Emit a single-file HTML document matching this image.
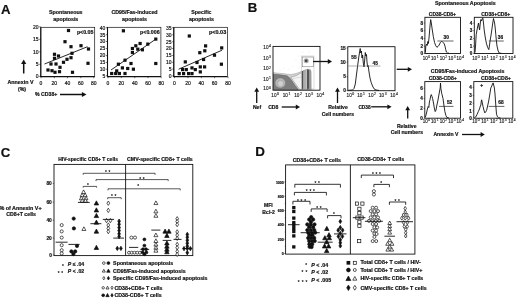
<!DOCTYPE html>
<html><head><meta charset="utf-8"><title>Figure</title>
<style>
html,body{margin:0;padding:0;background:#fff;}
body{width:520px;height:299px;overflow:hidden;}
svg{display:block;filter:blur(0.35px);font-family:"Liberation Sans",sans-serif;font-weight:bold;fill:#111;}
svg text{fill:#111;stroke:#111;stroke-width:0.18px;}
</style></head><body>
<svg width="520" height="299" viewBox="0 0 520 299">
<rect x="0" y="0" width="520" height="299" fill="#fff" stroke="none"/>
<text x="1.1" y="13.5" font-size="13.2" text-anchor="start" font-weight="bold" >A</text>
<rect x="40.8" y="27.3" width="53.900000000000006" height="49.3" fill="none" stroke="#111" stroke-width="0.7"/>
<line x1="40.8" y1="27.3" x2="40.8" y2="77.0" stroke="#111" stroke-width="1.1"/>
<line x1="40.4" y1="76.6" x2="94.7" y2="76.6" stroke="#111" stroke-width="1.1"/>
<text x="65.8" y="14.2" font-size="5.3" text-anchor="middle" font-weight="bold" >Spontaneous</text>
<text x="65.8" y="20.5" font-size="5.3" text-anchor="middle" font-weight="bold" >apoptosis</text>
<line x1="39.199999999999996" y1="76.4" x2="40.8" y2="76.4" stroke="#111" stroke-width="0.6"/>
<text x="38.5" y="78.2" font-size="5.0" text-anchor="end" font-weight="normal" stroke="#111" stroke-width="0.12">0</text>
<line x1="39.199999999999996" y1="64.3" x2="40.8" y2="64.3" stroke="#111" stroke-width="0.6"/>
<text x="38.5" y="66.1" font-size="5.0" text-anchor="end" font-weight="normal" stroke="#111" stroke-width="0.12">5</text>
<line x1="39.199999999999996" y1="51.8" x2="40.8" y2="51.8" stroke="#111" stroke-width="0.6"/>
<text x="38.5" y="53.599999999999994" font-size="5.0" text-anchor="end" font-weight="normal" stroke="#111" stroke-width="0.12">10</text>
<line x1="39.199999999999996" y1="39.3" x2="40.8" y2="39.3" stroke="#111" stroke-width="0.6"/>
<text x="38.5" y="41.099999999999994" font-size="5.0" text-anchor="end" font-weight="normal" stroke="#111" stroke-width="0.12">15</text>
<line x1="39.199999999999996" y1="26.8" x2="40.8" y2="26.8" stroke="#111" stroke-width="0.6"/>
<text x="38.5" y="28.6" font-size="5.0" text-anchor="end" font-weight="normal" stroke="#111" stroke-width="0.12">20</text>
<line x1="41" y1="76.6" x2="41" y2="78.19999999999999" stroke="#111" stroke-width="0.6"/>
<text x="41" y="84.5" font-size="5.0" text-anchor="middle" font-weight="normal" stroke="#111" stroke-width="0.12">0</text>
<line x1="54.3" y1="76.6" x2="54.3" y2="78.19999999999999" stroke="#111" stroke-width="0.6"/>
<text x="54.3" y="84.5" font-size="5.0" text-anchor="middle" font-weight="normal" stroke="#111" stroke-width="0.12">20</text>
<line x1="67.5" y1="76.6" x2="67.5" y2="78.19999999999999" stroke="#111" stroke-width="0.6"/>
<text x="67.5" y="84.5" font-size="5.0" text-anchor="middle" font-weight="normal" stroke="#111" stroke-width="0.12">40</text>
<line x1="80.8" y1="76.6" x2="80.8" y2="78.19999999999999" stroke="#111" stroke-width="0.6"/>
<text x="80.8" y="84.5" font-size="5.0" text-anchor="middle" font-weight="normal" stroke="#111" stroke-width="0.12">60</text>
<line x1="93.8" y1="76.6" x2="93.8" y2="78.19999999999999" stroke="#111" stroke-width="0.6"/>
<text x="93.8" y="84.5" font-size="5.0" text-anchor="middle" font-weight="normal" stroke="#111" stroke-width="0.12">80</text>
<rect x="66.9" y="28.9" width="3.2" height="3.2" fill="#111" stroke="#111" stroke-width="0.0"/>
<rect x="63.4" y="40.1" width="3.2" height="3.2" fill="#111" stroke="#111" stroke-width="0.0"/>
<rect x="69.4" y="45.1" width="3.2" height="3.2" fill="#111" stroke="#111" stroke-width="0.0"/>
<rect x="79.4" y="44.1" width="3.2" height="3.2" fill="#111" stroke="#111" stroke-width="0.0"/>
<rect x="86.9" y="47.4" width="3.2" height="3.2" fill="#111" stroke="#111" stroke-width="0.0"/>
<rect x="70.4" y="51.699999999999996" width="3.2" height="3.2" fill="#111" stroke="#111" stroke-width="0.0"/>
<rect x="52.9" y="52.699999999999996" width="3.2" height="3.2" fill="#111" stroke="#111" stroke-width="0.0"/>
<rect x="56.9" y="54.4" width="3.2" height="3.2" fill="#111" stroke="#111" stroke-width="0.0"/>
<rect x="52.9" y="56.699999999999996" width="3.2" height="3.2" fill="#111" stroke="#111" stroke-width="0.0"/>
<rect x="69.4" y="56.1" width="3.2" height="3.2" fill="#111" stroke="#111" stroke-width="0.0"/>
<rect x="65.4" y="57.699999999999996" width="3.2" height="3.2" fill="#111" stroke="#111" stroke-width="0.0"/>
<rect x="61.9" y="60.699999999999996" width="3.2" height="3.2" fill="#111" stroke="#111" stroke-width="0.0"/>
<rect x="49.4" y="62.4" width="3.2" height="3.2" fill="#111" stroke="#111" stroke-width="0.0"/>
<rect x="54.4" y="62.4" width="3.2" height="3.2" fill="#111" stroke="#111" stroke-width="0.0"/>
<rect x="86.4" y="61.699999999999996" width="3.2" height="3.2" fill="#111" stroke="#111" stroke-width="0.0"/>
<rect x="58.4" y="65.7" width="3.2" height="3.2" fill="#111" stroke="#111" stroke-width="0.0"/>
<rect x="46.4" y="68.4" width="3.2" height="3.2" fill="#111" stroke="#111" stroke-width="0.0"/>
<rect x="50.4" y="69.10000000000001" width="3.2" height="3.2" fill="#111" stroke="#111" stroke-width="0.0"/>
<rect x="53.4" y="70.7" width="3.2" height="3.2" fill="#111" stroke="#111" stroke-width="0.0"/>
<rect x="57.9" y="70.10000000000001" width="3.2" height="3.2" fill="#111" stroke="#111" stroke-width="0.0"/>
<rect x="70.9" y="70.7" width="3.2" height="3.2" fill="#111" stroke="#111" stroke-width="0.0"/>
<line x1="44.5" y1="64" x2="87.5" y2="46.7" stroke="#111" stroke-width="0.9"/>
<text x="93.4" y="33.7" font-size="5.2" text-anchor="end" font-weight="bold" textLength="16.5" lengthAdjust="spacingAndGlyphs" >p&lt;0.05</text>
<rect x="107.5" y="27.3" width="53.400000000000006" height="49.3" fill="none" stroke="#111" stroke-width="0.7"/>
<line x1="107.5" y1="27.3" x2="107.5" y2="77.0" stroke="#111" stroke-width="1.1"/>
<line x1="107.1" y1="76.6" x2="160.9" y2="76.6" stroke="#111" stroke-width="1.1"/>
<text x="134.5" y="14.2" font-size="5.3" text-anchor="middle" font-weight="bold" >CD95/Fas-induced</text>
<text x="134.5" y="20.5" font-size="5.3" text-anchor="middle" font-weight="bold" >apoptosis</text>
<line x1="105.9" y1="75.7" x2="107.5" y2="75.7" stroke="#111" stroke-width="0.6"/>
<text x="105.2" y="77.5" font-size="5.0" text-anchor="end" font-weight="normal" stroke="#111" stroke-width="0.12">5</text>
<line x1="105.9" y1="69.2" x2="107.5" y2="69.2" stroke="#111" stroke-width="0.6"/>
<text x="105.2" y="71.0" font-size="5.0" text-anchor="end" font-weight="normal" stroke="#111" stroke-width="0.12">10</text>
<line x1="105.9" y1="62.4" x2="107.5" y2="62.4" stroke="#111" stroke-width="0.6"/>
<text x="105.2" y="64.2" font-size="5.0" text-anchor="end" font-weight="normal" stroke="#111" stroke-width="0.12">15</text>
<line x1="105.9" y1="55.6" x2="107.5" y2="55.6" stroke="#111" stroke-width="0.6"/>
<text x="105.2" y="57.4" font-size="5.0" text-anchor="end" font-weight="normal" stroke="#111" stroke-width="0.12">20</text>
<line x1="105.9" y1="48.6" x2="107.5" y2="48.6" stroke="#111" stroke-width="0.6"/>
<text x="105.2" y="50.4" font-size="5.0" text-anchor="end" font-weight="normal" stroke="#111" stroke-width="0.12">25</text>
<line x1="105.9" y1="41.5" x2="107.5" y2="41.5" stroke="#111" stroke-width="0.6"/>
<text x="105.2" y="43.3" font-size="5.0" text-anchor="end" font-weight="normal" stroke="#111" stroke-width="0.12">30</text>
<line x1="105.9" y1="34.7" x2="107.5" y2="34.7" stroke="#111" stroke-width="0.6"/>
<text x="105.2" y="36.5" font-size="5.0" text-anchor="end" font-weight="normal" stroke="#111" stroke-width="0.12">35</text>
<line x1="105.9" y1="27.7" x2="107.5" y2="27.7" stroke="#111" stroke-width="0.6"/>
<text x="105.2" y="29.5" font-size="5.0" text-anchor="end" font-weight="normal" stroke="#111" stroke-width="0.12">40</text>
<line x1="108" y1="76.6" x2="108" y2="78.19999999999999" stroke="#111" stroke-width="0.6"/>
<text x="108" y="84.5" font-size="5.0" text-anchor="middle" font-weight="normal" stroke="#111" stroke-width="0.12">0</text>
<line x1="121.3" y1="76.6" x2="121.3" y2="78.19999999999999" stroke="#111" stroke-width="0.6"/>
<text x="121.3" y="84.5" font-size="5.0" text-anchor="middle" font-weight="normal" stroke="#111" stroke-width="0.12">20</text>
<line x1="134.8" y1="76.6" x2="134.8" y2="78.19999999999999" stroke="#111" stroke-width="0.6"/>
<text x="134.8" y="84.5" font-size="5.0" text-anchor="middle" font-weight="normal" stroke="#111" stroke-width="0.12">40</text>
<line x1="148" y1="76.6" x2="148" y2="78.19999999999999" stroke="#111" stroke-width="0.6"/>
<text x="148" y="84.5" font-size="5.0" text-anchor="middle" font-weight="normal" stroke="#111" stroke-width="0.12">60</text>
<line x1="161.2" y1="76.6" x2="161.2" y2="78.19999999999999" stroke="#111" stroke-width="0.6"/>
<text x="161.2" y="84.5" font-size="5.0" text-anchor="middle" font-weight="normal" stroke="#111" stroke-width="0.12">80</text>
<rect x="121.80000000000001" y="29.2" width="3.2" height="3.2" fill="#111" stroke="#111" stroke-width="0.0"/>
<rect x="154.20000000000002" y="37.5" width="3.2" height="3.2" fill="#111" stroke="#111" stroke-width="0.0"/>
<rect x="138.5" y="41.9" width="3.2" height="3.2" fill="#111" stroke="#111" stroke-width="0.0"/>
<rect x="146.20000000000002" y="42.5" width="3.2" height="3.2" fill="#111" stroke="#111" stroke-width="0.0"/>
<rect x="134.20000000000002" y="44.199999999999996" width="3.2" height="3.2" fill="#111" stroke="#111" stroke-width="0.0"/>
<rect x="130.8" y="46.9" width="3.2" height="3.2" fill="#111" stroke="#111" stroke-width="0.0"/>
<rect x="136.20000000000002" y="47.6" width="3.2" height="3.2" fill="#111" stroke="#111" stroke-width="0.0"/>
<rect x="140.8" y="48.199999999999996" width="3.2" height="3.2" fill="#111" stroke="#111" stroke-width="0.0"/>
<rect x="130.8" y="50.9" width="3.2" height="3.2" fill="#111" stroke="#111" stroke-width="0.0"/>
<rect x="123.4" y="58.6" width="3.2" height="3.2" fill="#111" stroke="#111" stroke-width="0.0"/>
<rect x="116.80000000000001" y="62.6" width="3.2" height="3.2" fill="#111" stroke="#111" stroke-width="0.0"/>
<rect x="129.4" y="61.9" width="3.2" height="3.2" fill="#111" stroke="#111" stroke-width="0.0"/>
<rect x="154.20000000000002" y="61.9" width="3.2" height="3.2" fill="#111" stroke="#111" stroke-width="0.0"/>
<rect x="120.80000000000001" y="66.30000000000001" width="3.2" height="3.2" fill="#111" stroke="#111" stroke-width="0.0"/>
<rect x="126.10000000000001" y="66.9" width="3.2" height="3.2" fill="#111" stroke="#111" stroke-width="0.0"/>
<rect x="131.8" y="67.60000000000001" width="3.2" height="3.2" fill="#111" stroke="#111" stroke-width="0.0"/>
<rect x="115.10000000000001" y="69.30000000000001" width="3.2" height="3.2" fill="#111" stroke="#111" stroke-width="0.0"/>
<rect x="110.10000000000001" y="71.9" width="3.2" height="3.2" fill="#111" stroke="#111" stroke-width="0.0"/>
<rect x="114.10000000000001" y="71.9" width="3.2" height="3.2" fill="#111" stroke="#111" stroke-width="0.0"/>
<rect x="117.80000000000001" y="71.9" width="3.2" height="3.2" fill="#111" stroke="#111" stroke-width="0.0"/>
<rect x="123.4" y="71.9" width="3.2" height="3.2" fill="#111" stroke="#111" stroke-width="0.0"/>
<line x1="111" y1="70" x2="156" y2="39" stroke="#111" stroke-width="0.9"/>
<text x="159.6" y="33.7" font-size="5.2" text-anchor="end" font-weight="bold" textLength="19.5" lengthAdjust="spacingAndGlyphs" >p&lt;0.006</text>
<rect x="173.8" y="27.3" width="53.69999999999999" height="49.3" fill="none" stroke="#111" stroke-width="0.7"/>
<line x1="173.8" y1="27.3" x2="173.8" y2="77.0" stroke="#111" stroke-width="1.1"/>
<line x1="173.4" y1="76.6" x2="227.5" y2="76.6" stroke="#111" stroke-width="1.1"/>
<text x="201.4" y="14.2" font-size="5.3" text-anchor="middle" font-weight="bold" >Specific</text>
<text x="201.4" y="20.5" font-size="5.3" text-anchor="middle" font-weight="bold" >apoptosis</text>
<line x1="172.20000000000002" y1="75.9" x2="173.8" y2="75.9" stroke="#111" stroke-width="0.6"/>
<text x="171.5" y="77.7" font-size="5.0" text-anchor="end" font-weight="normal" stroke="#111" stroke-width="0.12">0</text>
<line x1="172.20000000000002" y1="69.1" x2="173.8" y2="69.1" stroke="#111" stroke-width="0.6"/>
<text x="171.5" y="70.89999999999999" font-size="5.0" text-anchor="end" font-weight="normal" stroke="#111" stroke-width="0.12">5</text>
<line x1="172.20000000000002" y1="62.3" x2="173.8" y2="62.3" stroke="#111" stroke-width="0.6"/>
<text x="171.5" y="64.1" font-size="5.0" text-anchor="end" font-weight="normal" stroke="#111" stroke-width="0.12">10</text>
<line x1="172.20000000000002" y1="55.5" x2="173.8" y2="55.5" stroke="#111" stroke-width="0.6"/>
<text x="171.5" y="57.3" font-size="5.0" text-anchor="end" font-weight="normal" stroke="#111" stroke-width="0.12">15</text>
<line x1="172.20000000000002" y1="48.5" x2="173.8" y2="48.5" stroke="#111" stroke-width="0.6"/>
<text x="171.5" y="50.3" font-size="5.0" text-anchor="end" font-weight="normal" stroke="#111" stroke-width="0.12">20</text>
<line x1="172.20000000000002" y1="41.7" x2="173.8" y2="41.7" stroke="#111" stroke-width="0.6"/>
<text x="171.5" y="43.5" font-size="5.0" text-anchor="end" font-weight="normal" stroke="#111" stroke-width="0.12">25</text>
<line x1="172.20000000000002" y1="34.8" x2="173.8" y2="34.8" stroke="#111" stroke-width="0.6"/>
<text x="171.5" y="36.599999999999994" font-size="5.0" text-anchor="end" font-weight="normal" stroke="#111" stroke-width="0.12">30</text>
<line x1="172.20000000000002" y1="27.7" x2="173.8" y2="27.7" stroke="#111" stroke-width="0.6"/>
<text x="171.5" y="29.5" font-size="5.0" text-anchor="end" font-weight="normal" stroke="#111" stroke-width="0.12">35</text>
<line x1="174.5" y1="76.6" x2="174.5" y2="78.19999999999999" stroke="#111" stroke-width="0.6"/>
<text x="174.5" y="84.5" font-size="5.0" text-anchor="middle" font-weight="normal" stroke="#111" stroke-width="0.12">0</text>
<line x1="188" y1="76.6" x2="188" y2="78.19999999999999" stroke="#111" stroke-width="0.6"/>
<text x="188" y="84.5" font-size="5.0" text-anchor="middle" font-weight="normal" stroke="#111" stroke-width="0.12">20</text>
<line x1="201.3" y1="76.6" x2="201.3" y2="78.19999999999999" stroke="#111" stroke-width="0.6"/>
<text x="201.3" y="84.5" font-size="5.0" text-anchor="middle" font-weight="normal" stroke="#111" stroke-width="0.12">40</text>
<line x1="214.6" y1="76.6" x2="214.6" y2="78.19999999999999" stroke="#111" stroke-width="0.6"/>
<text x="214.6" y="84.5" font-size="5.0" text-anchor="middle" font-weight="normal" stroke="#111" stroke-width="0.12">60</text>
<line x1="228" y1="76.6" x2="228" y2="78.19999999999999" stroke="#111" stroke-width="0.6"/>
<text x="228" y="84.5" font-size="5.0" text-anchor="middle" font-weight="normal" stroke="#111" stroke-width="0.12">80</text>
<rect x="187.70000000000002" y="34.4" width="3.2" height="3.2" fill="#111" stroke="#111" stroke-width="0.0"/>
<rect x="220.1" y="46.3" width="3.2" height="3.2" fill="#111" stroke="#111" stroke-width="0.0"/>
<rect x="204.0" y="44.3" width="3.2" height="3.2" fill="#111" stroke="#111" stroke-width="0.0"/>
<rect x="198.20000000000002" y="51.1" width="3.2" height="3.2" fill="#111" stroke="#111" stroke-width="0.0"/>
<rect x="203.20000000000002" y="49.199999999999996" width="3.2" height="3.2" fill="#111" stroke="#111" stroke-width="0.0"/>
<rect x="212.9" y="53.6" width="3.2" height="3.2" fill="#111" stroke="#111" stroke-width="0.0"/>
<rect x="202.0" y="57.9" width="3.2" height="3.2" fill="#111" stroke="#111" stroke-width="0.0"/>
<rect x="183.70000000000002" y="60.3" width="3.2" height="3.2" fill="#111" stroke="#111" stroke-width="0.0"/>
<rect x="195.4" y="60.9" width="3.2" height="3.2" fill="#111" stroke="#111" stroke-width="0.0"/>
<rect x="219.8" y="62.6" width="3.2" height="3.2" fill="#111" stroke="#111" stroke-width="0.0"/>
<rect x="198.70000000000002" y="65.30000000000001" width="3.2" height="3.2" fill="#111" stroke="#111" stroke-width="0.0"/>
<rect x="203.0" y="65.30000000000001" width="3.2" height="3.2" fill="#111" stroke="#111" stroke-width="0.0"/>
<rect x="190.4" y="66.30000000000001" width="3.2" height="3.2" fill="#111" stroke="#111" stroke-width="0.0"/>
<rect x="181.0" y="68.0" width="3.2" height="3.2" fill="#111" stroke="#111" stroke-width="0.0"/>
<rect x="184.70000000000002" y="68.0" width="3.2" height="3.2" fill="#111" stroke="#111" stroke-width="0.0"/>
<rect x="193.70000000000002" y="68.0" width="3.2" height="3.2" fill="#111" stroke="#111" stroke-width="0.0"/>
<rect x="198.70000000000002" y="70.30000000000001" width="3.2" height="3.2" fill="#111" stroke="#111" stroke-width="0.0"/>
<rect x="177.6" y="72.0" width="3.2" height="3.2" fill="#111" stroke="#111" stroke-width="0.0"/>
<rect x="182.0" y="72.0" width="3.2" height="3.2" fill="#111" stroke="#111" stroke-width="0.0"/>
<rect x="187.0" y="72.0" width="3.2" height="3.2" fill="#111" stroke="#111" stroke-width="0.0"/>
<rect x="190.4" y="72.0" width="3.2" height="3.2" fill="#111" stroke="#111" stroke-width="0.0"/>
<line x1="178.6" y1="69.2" x2="222" y2="50.2" stroke="#111" stroke-width="0.9"/>
<text x="226.2" y="33.7" font-size="5.2" text-anchor="end" font-weight="bold" textLength="17.2" lengthAdjust="spacingAndGlyphs" >p&lt;0.03</text>
<line x1="23.7" y1="73.5" x2="23.7" y2="63.599999999999994" stroke="#111" stroke-width="1.5"/>
<polygon points="23.7,59.5 21.099999999999998,64.1 26.3,64.1" fill="#111"/>
<text x="7.5" y="84" font-size="5.2" text-anchor="start" font-weight="bold" textLength="26" lengthAdjust="spacingAndGlyphs" >Annexin V</text>
<text x="22" y="90.6" font-size="5.2" text-anchor="middle" font-weight="bold" >(%)</text>
<text x="35" y="96.2" font-size="5.2" text-anchor="start" font-weight="bold" textLength="22.3" lengthAdjust="spacingAndGlyphs" >% CD38+</text>
<line x1="60" y1="94.5" x2="82.4" y2="94.5" stroke="#111" stroke-width="1.5"/>
<polygon points="86.5,94.5 81.9,91.9 81.9,97.1" fill="#111"/>
<text x="247.8" y="11.7" font-size="13.2" text-anchor="start" font-weight="bold" >B</text>
<defs><linearGradient id="g1" x1="0" x2="1" y1="0" y2="0"><stop offset="0" stop-color="#777"/><stop offset="0.45" stop-color="#aaa"/><stop offset="1" stop-color="#ddd"/></linearGradient><linearGradient id="g2" x1="0" x2="0" y1="0" y2="1"><stop offset="0" stop-color="#e4e4e4"/><stop offset="1" stop-color="#9a9a9a"/></linearGradient></defs>
<path d="M273.5,89.8 L273.5,72.6 L278,73.2 L283,73.6 L290,74.6 L296,73.6 L301,71.6 L305,70 L308,69 L310.5,69.6 L311.2,72 L311.4,89.8 Z" fill="#d4d4d4" stroke="#888" stroke-width="0.4"/>
<path d="M273.5,89.8 L273.5,74.2 L280,74.8 L287,75.8 L289.2,77.4 L292,81 L295,85.5 L298.4,89.8 Z" fill="#7d7d7d" stroke="#444" stroke-width="0.4"/>
<ellipse cx="280.3" cy="83" rx="5.2" ry="5" fill="#b9b9b9" stroke="#666" stroke-width="0.3"/>
<ellipse cx="280.6" cy="83.6" rx="3" ry="3.2" fill="#cfcfcf" stroke="#777" stroke-width="0.3"/>
<path d="M290.6,77 L293.5,76.6 L297,75.2 L301.6,72.6 L302,89.4 L299.6,89.4 L296,84.6 L293,80.4 Z" fill="#f3f3f3" stroke="#666" stroke-width="0.4"/>
<path d="M292,79.2 Q296,77.5 301.6,77" fill="none" stroke="#999" stroke-width="0.3"/>
<line x1="302.6" y1="71" x2="302.6" y2="89.5" stroke="#333" stroke-width="0.9"/>
<line x1="304" y1="70.2" x2="304" y2="89.5" stroke="#666" stroke-width="0.7"/>
<line x1="305.6" y1="69.6" x2="305.6" y2="89.5" stroke="#888" stroke-width="0.5"/>
<line x1="307.4" y1="69.4" x2="307.4" y2="89.5" stroke="#333" stroke-width="0.9"/>
<line x1="308.8" y1="69.6" x2="308.8" y2="89.5" stroke="#222" stroke-width="1.0"/>
<line x1="310.3" y1="70.4" x2="310.3" y2="89.5" stroke="#666" stroke-width="0.6"/>
<rect x="301.4" y="56" width="12.6" height="33" fill="none" stroke="#aaa" stroke-width="0.4"/>
<rect x="302.2" y="57" width="11.2" height="9.8" fill="none" stroke="#666" stroke-width="0.5"/>
<circle cx="306.2" cy="60.8" r="2.5" fill="#aaa"/><circle cx="306.2" cy="60.8" r="1.3" fill="#3a3a3a"/>
<circle cx="296" cy="60" r="0.3" fill="#999"/>
<circle cx="299" cy="68" r="0.3" fill="#999"/>
<circle cx="303" cy="52" r="0.3" fill="#999"/>
<circle cx="315" cy="63" r="0.3" fill="#999"/>
<circle cx="293" cy="66" r="0.3" fill="#999"/>
<circle cx="299" cy="56" r="0.3" fill="#999"/>
<circle cx="316" cy="58" r="0.3" fill="#999"/>
<circle cx="309" cy="52" r="0.3" fill="#999"/>
<circle cx="289" cy="69" r="0.3" fill="#999"/>
<circle cx="284" cy="68" r="0.3" fill="#999"/>
<circle cx="280" cy="70" r="0.3" fill="#999"/>
<rect x="273.0" y="46.4" width="47.0" height="43.800000000000004" fill="none" stroke="#111" stroke-width="0.9"/>
<text x="271.0" y="90.3" font-size="4.7" text-anchor="end" font-weight="normal" style="fill:#222;stroke:#222;stroke-width:0.14px">10<tspan dy="-1.8" dx="0.5" font-size="3.478">0</tspan></text>
<text x="271.0" y="80.6" font-size="4.7" text-anchor="end" font-weight="normal" style="fill:#222;stroke:#222;stroke-width:0.14px">10<tspan dy="-1.8" dx="0.5" font-size="3.478">1</tspan></text>
<text x="271.0" y="70.3" font-size="4.7" text-anchor="end" font-weight="normal" style="fill:#222;stroke:#222;stroke-width:0.14px">10<tspan dy="-1.8" dx="0.5" font-size="3.478">2</tspan></text>
<text x="271.0" y="60.0" font-size="4.7" text-anchor="end" font-weight="normal" style="fill:#222;stroke:#222;stroke-width:0.14px">10<tspan dy="-1.8" dx="0.5" font-size="3.478">3</tspan></text>
<text x="271.0" y="49.2" font-size="4.7" text-anchor="end" font-weight="normal" style="fill:#222;stroke:#222;stroke-width:0.14px">10<tspan dy="-1.8" dx="0.5" font-size="3.478">4</tspan></text>
<text x="275.2" y="96.9" font-size="4.7" text-anchor="middle" font-weight="normal" style="fill:#222;stroke:#222;stroke-width:0.14px">10<tspan dy="-1.8" dx="0.5" font-size="3.478">0</tspan></text>
<text x="286.5" y="96.9" font-size="4.7" text-anchor="middle" font-weight="normal" style="fill:#222;stroke:#222;stroke-width:0.14px">10<tspan dy="-1.8" dx="0.5" font-size="3.478">1</tspan></text>
<text x="298" y="96.9" font-size="4.7" text-anchor="middle" font-weight="normal" style="fill:#222;stroke:#222;stroke-width:0.14px">10<tspan dy="-1.8" dx="0.5" font-size="3.478">2</tspan></text>
<text x="309.2" y="96.9" font-size="4.7" text-anchor="middle" font-weight="normal" style="fill:#222;stroke:#222;stroke-width:0.14px">10<tspan dy="-1.8" dx="0.5" font-size="3.478">3</tspan></text>
<text x="320.4" y="96.9" font-size="4.7" text-anchor="middle" font-weight="normal" style="fill:#222;stroke:#222;stroke-width:0.14px">10<tspan dy="-1.8" dx="0.5" font-size="3.478">4</tspan></text>
<line x1="313" y1="61.5" x2="328.3" y2="61.5" stroke="#111" stroke-width="1.3"/>
<polygon points="332,61.5 327.8,59.1 327.8,63.9" fill="#111"/>
<line x1="256.7" y1="103" x2="256.7" y2="91.2" stroke="#111" stroke-width="1.3"/>
<polygon points="256.7,87.5 254.29999999999998,91.7 259.09999999999997,91.7" fill="#111"/>
<text x="257" y="108.6" font-size="5.1" text-anchor="middle" font-weight="bold" >Nef</text>
<text x="268.2" y="108.6" font-size="5.1" text-anchor="start" font-weight="bold" >CD8</text>
<line x1="281.7" y1="107" x2="296.3" y2="107" stroke="#111" stroke-width="1.3"/>
<polygon points="300,107 295.8,104.6 295.8,109.4" fill="#111"/>
<rect x="347.8" y="46.7" width="47.19999999999999" height="44.0" fill="none" stroke="#111" stroke-width="0.9"/>
<line x1="346.5" y1="90.7" x2="347.8" y2="90.7" stroke="#111" stroke-width="0.5"/>
<text x="345.8" y="92.4" font-size="4.8" text-anchor="end" font-weight="bold" >0</text>
<line x1="346.5" y1="76.7" x2="347.8" y2="76.7" stroke="#111" stroke-width="0.5"/>
<text x="345.8" y="78.4" font-size="4.8" text-anchor="end" font-weight="bold" >5</text>
<line x1="346.5" y1="62.2" x2="347.8" y2="62.2" stroke="#111" stroke-width="0.5"/>
<text x="345.8" y="63.900000000000006" font-size="4.8" text-anchor="end" font-weight="bold" >10</text>
<line x1="346.5" y1="48" x2="347.8" y2="48" stroke="#111" stroke-width="0.5"/>
<text x="345.8" y="49.7" font-size="4.8" text-anchor="end" font-weight="bold" >15</text>
<text x="350.4" y="97.2" font-size="4.7" text-anchor="middle" font-weight="normal" style="fill:#222;stroke:#222;stroke-width:0.14px">10<tspan dy="-1.8" dx="0.5" font-size="3.478">0</tspan></text>
<text x="361" y="97.2" font-size="4.7" text-anchor="middle" font-weight="normal" style="fill:#222;stroke:#222;stroke-width:0.14px">10<tspan dy="-1.8" dx="0.5" font-size="3.478">1</tspan></text>
<text x="372.2" y="97.2" font-size="4.7" text-anchor="middle" font-weight="normal" style="fill:#222;stroke:#222;stroke-width:0.14px">10<tspan dy="-1.8" dx="0.5" font-size="3.478">2</tspan></text>
<text x="382.8" y="97.2" font-size="4.7" text-anchor="middle" font-weight="normal" style="fill:#222;stroke:#222;stroke-width:0.14px">10<tspan dy="-1.8" dx="0.5" font-size="3.478">3</tspan></text>
<text x="394" y="97.2" font-size="4.7" text-anchor="middle" font-weight="normal" style="fill:#222;stroke:#222;stroke-width:0.14px">10<tspan dy="-1.8" dx="0.5" font-size="3.478">4</tspan></text>
<path d="M348.3,90.3 L352.5,90 L354,88.5 L355.3,84 L356.3,76 L357.2,69 L358,63 L358.8,57 L359.6,52 L360.2,48.5 L360.8,53 L361.4,51 L362,58 L362.6,55 L363.3,63 L364,67 L364.7,60 L365.3,52.5 L365.9,56 L366.5,54.5 L367,62 L367.6,67 L368.2,65.5 L369,72 L370,78 L371.2,82.5 L372.5,86 L374,88.8 L376,90 L379,90.4" fill="none" stroke="#111" stroke-width="0.9" stroke-linejoin="round"/>
<line x1="348.3" y1="66" x2="380.4" y2="66" stroke="#777" stroke-width="0.6"/>
<text x="354" y="59.2" font-size="4.8" text-anchor="middle" font-weight="bold" >55</text>
<text x="375.2" y="64.5" font-size="4.8" text-anchor="middle" font-weight="bold" >45</text>
<line x1="337.5" y1="103" x2="337.5" y2="91.2" stroke="#111" stroke-width="1.3"/>
<polygon points="337.5,87.5 335.1,91.7 339.9,91.7" fill="#111"/>
<text x="338" y="108.6" font-size="5.1" text-anchor="middle" font-weight="bold" >Relative</text>
<text x="338" y="115.9" font-size="5.1" text-anchor="middle" font-weight="bold" >Cell numbers</text>
<text x="358.4" y="108.6" font-size="5.1" text-anchor="start" font-weight="bold" textLength="12.2" lengthAdjust="spacingAndGlyphs" >CD38</text>
<line x1="371.2" y1="106.8" x2="387.90000000000003" y2="106.8" stroke="#111" stroke-width="1.3"/>
<polygon points="391.6,106.8 387.40000000000003,104.39999999999999 387.40000000000003,109.2" fill="#111"/>
<line x1="396.7" y1="69.3" x2="408.3" y2="69.3" stroke="#111" stroke-width="1.3"/>
<polygon points="412,69.3 407.8,66.89999999999999 407.8,71.7" fill="#111"/>
<text x="465.4" y="5.3" font-size="5.1" text-anchor="middle" font-weight="bold" textLength="60.8" lengthAdjust="spacingAndGlyphs" >Spontaneous Apoptosis</text>
<text x="467.6" y="73.4" font-size="5.1" text-anchor="middle" font-weight="bold" textLength="73.6" lengthAdjust="spacingAndGlyphs" >CD95/Fas-induced Apoptosis</text>
<rect x="424.9" y="17.3" width="35.60000000000002" height="36.2" fill="none" stroke="#111" stroke-width="0.9"/>
<text x="428.8" y="15.9" font-size="5.0" text-anchor="start" font-weight="bold" textLength="27.19999999999999" lengthAdjust="spacingAndGlyphs" >CD38-CD8+</text>
<line x1="423.7" y1="53.6" x2="424.9" y2="53.6" stroke="#111" stroke-width="0.5"/>
<text x="423.0" y="55.300000000000004" font-size="4.6" text-anchor="end" font-weight="bold" >0</text>
<line x1="423.7" y1="46.2" x2="424.9" y2="46.2" stroke="#111" stroke-width="0.5"/>
<text x="423.0" y="47.900000000000006" font-size="4.6" text-anchor="end" font-weight="bold" >2</text>
<line x1="423.7" y1="38.5" x2="424.9" y2="38.5" stroke="#111" stroke-width="0.5"/>
<text x="423.0" y="40.2" font-size="4.6" text-anchor="end" font-weight="bold" >4</text>
<line x1="423.7" y1="30.7" x2="424.9" y2="30.7" stroke="#111" stroke-width="0.5"/>
<text x="423.0" y="32.4" font-size="4.6" text-anchor="end" font-weight="bold" >6</text>
<line x1="423.7" y1="23" x2="424.9" y2="23" stroke="#111" stroke-width="0.5"/>
<text x="423.0" y="24.7" font-size="4.6" text-anchor="end" font-weight="bold" >8</text>
<text x="426.5" y="60" font-size="4.5" text-anchor="middle" font-weight="normal" style="fill:#222;stroke:#222;stroke-width:0.14px">10<tspan dy="-1.8" dx="0.5" font-size="3.33">0</tspan></text>
<text x="434.8" y="60" font-size="4.5" text-anchor="middle" font-weight="normal" style="fill:#222;stroke:#222;stroke-width:0.14px">10<tspan dy="-1.8" dx="0.5" font-size="3.33">1</tspan></text>
<text x="443.4" y="60" font-size="4.5" text-anchor="middle" font-weight="normal" style="fill:#222;stroke:#222;stroke-width:0.14px">10<tspan dy="-1.8" dx="0.5" font-size="3.33">2</tspan></text>
<text x="452" y="60" font-size="4.5" text-anchor="middle" font-weight="normal" style="fill:#222;stroke:#222;stroke-width:0.14px">10<tspan dy="-1.8" dx="0.5" font-size="3.33">3</tspan></text>
<text x="460.3" y="60" font-size="4.5" text-anchor="middle" font-weight="normal" style="fill:#222;stroke:#222;stroke-width:0.14px">10<tspan dy="-1.8" dx="0.5" font-size="3.33">4</tspan></text>
<path d="M425.4,52.5 L425.8,46 L426.6,44 L427.2,45.5 L427.8,41.5 L428.4,43.5 L429,38 L429.6,31 L430.2,24 L430.7,19.6 L431.3,23 L432.3,30 L433.3,36.5 L434.6,42.7 L435.8,45.8 L436.9,47.3 L438,46.5 L439.2,45 L440.3,42.5 L441.5,41.5 L442.5,41.8 L443.4,42.7 L444.3,44 L445,46.2 L445.7,49.5 L446.4,52 L447.5,53 L449,53.2" fill="none" stroke="#111" stroke-width="0.9" stroke-linejoin="round"/>
<line x1="437.4" y1="41" x2="453.5" y2="41" stroke="#222" stroke-width="0.7"/>
<text x="446.2" y="38.7" font-size="4.8" text-anchor="middle" font-weight="bold" >30</text>
<rect x="474.3" y="17.3" width="38.69999999999999" height="36.2" fill="none" stroke="#111" stroke-width="0.9"/>
<text x="481.2" y="15.9" font-size="5.0" text-anchor="start" font-weight="bold" textLength="29.100000000000023" lengthAdjust="spacingAndGlyphs" >CD38+CD8+</text>
<line x1="473.1" y1="53.6" x2="474.3" y2="53.6" stroke="#111" stroke-width="0.5"/>
<text x="472.40000000000003" y="55.300000000000004" font-size="4.6" text-anchor="end" font-weight="bold" >0</text>
<line x1="473.1" y1="46.2" x2="474.3" y2="46.2" stroke="#111" stroke-width="0.5"/>
<text x="472.40000000000003" y="47.900000000000006" font-size="4.6" text-anchor="end" font-weight="bold" >1</text>
<line x1="473.1" y1="38.5" x2="474.3" y2="38.5" stroke="#111" stroke-width="0.5"/>
<text x="472.40000000000003" y="40.2" font-size="4.6" text-anchor="end" font-weight="bold" >2</text>
<line x1="473.1" y1="30.7" x2="474.3" y2="30.7" stroke="#111" stroke-width="0.5"/>
<text x="472.40000000000003" y="32.4" font-size="4.6" text-anchor="end" font-weight="bold" >3</text>
<line x1="473.1" y1="23" x2="474.3" y2="23" stroke="#111" stroke-width="0.5"/>
<text x="472.40000000000003" y="24.7" font-size="4.6" text-anchor="end" font-weight="bold" >4</text>
<text x="476" y="60" font-size="4.5" text-anchor="middle" font-weight="normal" style="fill:#222;stroke:#222;stroke-width:0.14px">10<tspan dy="-1.8" dx="0.5" font-size="3.33">0</tspan></text>
<text x="485" y="60" font-size="4.5" text-anchor="middle" font-weight="normal" style="fill:#222;stroke:#222;stroke-width:0.14px">10<tspan dy="-1.8" dx="0.5" font-size="3.33">1</tspan></text>
<text x="494" y="60" font-size="4.5" text-anchor="middle" font-weight="normal" style="fill:#222;stroke:#222;stroke-width:0.14px">10<tspan dy="-1.8" dx="0.5" font-size="3.33">2</tspan></text>
<text x="503" y="60" font-size="4.5" text-anchor="middle" font-weight="normal" style="fill:#222;stroke:#222;stroke-width:0.14px">10<tspan dy="-1.8" dx="0.5" font-size="3.33">3</tspan></text>
<text x="512" y="60" font-size="4.5" text-anchor="middle" font-weight="normal" style="fill:#222;stroke:#222;stroke-width:0.14px">10<tspan dy="-1.8" dx="0.5" font-size="3.33">4</tspan></text>
<path d="M475,52.5 L475.6,45 L476.2,34.6 L477,30 L477.8,26 L478.5,23 L479,27 L479.6,30 L480.2,24 L480.8,19.6 L481.6,21 L482.2,18.5 L482.8,18 L483.4,22 L484.2,30 L485.2,37 L486.5,43.8 L487.7,47.5 L488.8,49.6 L489.4,46 L490,41.5 L490.9,36 L491.8,30 L492.6,24 L493.5,18.5 L494.1,21 L494.6,23 L495.2,28 L495.8,34.6 L496.4,41 L497,46 L497.9,50 L498.8,52.6 L500,53.2 L501.5,53.3" fill="none" stroke="#111" stroke-width="0.9" stroke-linejoin="round"/>
<line x1="488.8" y1="41" x2="503.8" y2="41" stroke="#222" stroke-width="0.7"/>
<text x="500.4" y="38.7" font-size="4.8" text-anchor="middle" font-weight="bold" >36</text>
<rect x="424.8" y="81.6" width="35.69999999999999" height="36.60000000000001" fill="none" stroke="#111" stroke-width="0.9"/>
<text x="428.7" y="80.2" font-size="5.0" text-anchor="start" font-weight="bold" textLength="28.19999999999999" lengthAdjust="spacingAndGlyphs" >CD38-CD8+</text>
<line x1="423.6" y1="118.2" x2="424.8" y2="118.2" stroke="#111" stroke-width="0.5"/>
<text x="422.90000000000003" y="119.9" font-size="4.6" text-anchor="end" font-weight="bold" >0</text>
<line x1="423.6" y1="108.4" x2="424.8" y2="108.4" stroke="#111" stroke-width="0.5"/>
<text x="422.90000000000003" y="110.10000000000001" font-size="4.6" text-anchor="end" font-weight="bold" >2</text>
<line x1="423.6" y1="98.5" x2="424.8" y2="98.5" stroke="#111" stroke-width="0.5"/>
<text x="422.90000000000003" y="100.2" font-size="4.6" text-anchor="end" font-weight="bold" >4</text>
<line x1="423.6" y1="88.2" x2="424.8" y2="88.2" stroke="#111" stroke-width="0.5"/>
<text x="422.90000000000003" y="89.9" font-size="4.6" text-anchor="end" font-weight="bold" >6</text>
<text x="426.5" y="123" font-size="4.5" text-anchor="middle" font-weight="normal" style="fill:#222;stroke:#222;stroke-width:0.14px">10<tspan dy="-1.8" dx="0.5" font-size="3.33">0</tspan></text>
<text x="434.8" y="123" font-size="4.5" text-anchor="middle" font-weight="normal" style="fill:#222;stroke:#222;stroke-width:0.14px">10<tspan dy="-1.8" dx="0.5" font-size="3.33">1</tspan></text>
<text x="443.4" y="123" font-size="4.5" text-anchor="middle" font-weight="normal" style="fill:#222;stroke:#222;stroke-width:0.14px">10<tspan dy="-1.8" dx="0.5" font-size="3.33">2</tspan></text>
<text x="452" y="123" font-size="4.5" text-anchor="middle" font-weight="normal" style="fill:#222;stroke:#222;stroke-width:0.14px">10<tspan dy="-1.8" dx="0.5" font-size="3.33">3</tspan></text>
<text x="460.3" y="123" font-size="4.5" text-anchor="middle" font-weight="normal" style="fill:#222;stroke:#222;stroke-width:0.14px">10<tspan dy="-1.8" dx="0.5" font-size="3.33">4</tspan></text>
<path d="M425.3,117.3 L426.3,114 L427.4,109 L428.2,106.5 L428.8,107.5 L429.4,102 L430,99.8 L430.7,96 L431.3,94.6 L432,96.5 L432.6,98.5 L433.5,103 L434.3,108 L435.2,111.6 L436,110 L436.9,105 L437.8,101 L438.7,96 L439.6,91 L440.2,88 L440.5,83 L440.9,88.5 L441.7,93.3 L442.4,96 L443,98.5 L443.9,105 L444.9,111.6 L445.9,115.5 L447,117.6 L449,118" fill="none" stroke="#111" stroke-width="0.9" stroke-linejoin="round"/>
<line x1="439" y1="106.4" x2="453.5" y2="106.4" stroke="#222" stroke-width="0.7"/>
<text x="449.6" y="104.1" font-size="4.8" text-anchor="middle" font-weight="bold" >52</text>
<rect x="473.8" y="81.6" width="38.99999999999994" height="36.60000000000001" fill="none" stroke="#111" stroke-width="0.9"/>
<text x="480.9" y="80.2" font-size="5.0" text-anchor="start" font-weight="bold" textLength="30.0" lengthAdjust="spacingAndGlyphs" >CD38+CD8+</text>
<line x1="472.6" y1="118.2" x2="473.8" y2="118.2" stroke="#111" stroke-width="0.5"/>
<text x="471.90000000000003" y="119.9" font-size="4.6" text-anchor="end" font-weight="bold" >0</text>
<line x1="472.6" y1="110.8" x2="473.8" y2="110.8" stroke="#111" stroke-width="0.5"/>
<text x="471.90000000000003" y="112.5" font-size="4.6" text-anchor="end" font-weight="bold" >1</text>
<line x1="472.6" y1="103.1" x2="473.8" y2="103.1" stroke="#111" stroke-width="0.5"/>
<text x="471.90000000000003" y="104.8" font-size="4.6" text-anchor="end" font-weight="bold" >2</text>
<line x1="472.6" y1="95.4" x2="473.8" y2="95.4" stroke="#111" stroke-width="0.5"/>
<text x="471.90000000000003" y="97.10000000000001" font-size="4.6" text-anchor="end" font-weight="bold" >3</text>
<line x1="472.6" y1="87.4" x2="473.8" y2="87.4" stroke="#111" stroke-width="0.5"/>
<text x="471.90000000000003" y="89.10000000000001" font-size="4.6" text-anchor="end" font-weight="bold" >4</text>
<text x="476" y="123" font-size="4.5" text-anchor="middle" font-weight="normal" style="fill:#222;stroke:#222;stroke-width:0.14px">10<tspan dy="-1.8" dx="0.5" font-size="3.33">0</tspan></text>
<text x="485" y="123" font-size="4.5" text-anchor="middle" font-weight="normal" style="fill:#222;stroke:#222;stroke-width:0.14px">10<tspan dy="-1.8" dx="0.5" font-size="3.33">1</tspan></text>
<text x="494" y="123" font-size="4.5" text-anchor="middle" font-weight="normal" style="fill:#222;stroke:#222;stroke-width:0.14px">10<tspan dy="-1.8" dx="0.5" font-size="3.33">2</tspan></text>
<text x="503" y="123" font-size="4.5" text-anchor="middle" font-weight="normal" style="fill:#222;stroke:#222;stroke-width:0.14px">10<tspan dy="-1.8" dx="0.5" font-size="3.33">3</tspan></text>
<text x="512" y="123" font-size="4.5" text-anchor="middle" font-weight="normal" style="fill:#222;stroke:#222;stroke-width:0.14px">10<tspan dy="-1.8" dx="0.5" font-size="3.33">4</tspan></text>
<path d="M474.5,117.5 L475.7,117 L477,114.5 L478.3,111.6 L479.5,109 L480.3,106 L480.9,105 L481.3,101 L481.7,99.8 L482.3,103 L483,106.4 L483.9,110 L484.8,112.9 L485.7,112 L486.6,110.3 L487.6,106 L488.7,101 L489.7,95 L490.8,88 L491.8,86 L492.5,84 L493.1,82.9 L493.7,85 L494.4,88 L495,94 L495.5,101 L496,108 L496.5,114.2 L497.5,116.8 L498.6,117.8 L500.5,118" fill="none" stroke="#111" stroke-width="0.9" stroke-linejoin="round"/>
<line x1="488.7" y1="106.4" x2="504.4" y2="106.4" stroke="#222" stroke-width="0.7"/>
<text x="501" y="104.1" font-size="4.8" text-anchor="middle" font-weight="bold" >68</text>
<text x="481.7" y="87.3" font-size="5" text-anchor="middle" font-weight="bold" >+</text>
<text x="433.4" y="136.2" font-size="5.1" text-anchor="start" font-weight="bold" textLength="25" lengthAdjust="spacingAndGlyphs" >Annexin V</text>
<line x1="462" y1="134.5" x2="481.1" y2="134.5" stroke="#111" stroke-width="1.3"/>
<polygon points="484.8,134.5 480.6,132.1 480.6,136.9" fill="#111"/>
<line x1="407.7" y1="118.5" x2="407.7" y2="109.7" stroke="#111" stroke-width="1.3"/>
<polygon points="407.7,106 405.3,110.2 410.09999999999997,110.2" fill="#111"/>
<text x="406.7" y="128.1" font-size="5.1" text-anchor="middle" font-weight="bold" >Relative</text>
<text x="406.9" y="134.1" font-size="5.1" text-anchor="middle" font-weight="bold" >Cell numbers</text>
<text x="0.8" y="157.2" font-size="13.2" text-anchor="start" font-weight="bold" >C</text>
<rect x="54.0" y="164.4" width="138.8" height="91.19999999999999" fill="none" stroke="#111" stroke-width="0.9"/>
<line x1="125.6" y1="164.4" x2="125.6" y2="255.6" stroke="#111" stroke-width="0.9"/>
<text x="58.2" y="161.2" font-size="5" text-anchor="start" font-weight="bold" textLength="59.8" lengthAdjust="spacingAndGlyphs" >HIV-specific CD8+ T cells</text>
<text x="127" y="161.2" font-size="5" text-anchor="start" font-weight="bold" textLength="65.8" lengthAdjust="spacingAndGlyphs" >CMV-specific CD8+ T cells</text>
<line x1="52.7" y1="254.9" x2="54.0" y2="254.9" stroke="#111" stroke-width="0.5"/>
<text x="51.8" y="256.6" font-size="4.8" text-anchor="end" font-weight="bold" >0</text>
<line x1="52.7" y1="238.1" x2="54.0" y2="238.1" stroke="#111" stroke-width="0.5"/>
<text x="51.8" y="239.79999999999998" font-size="4.8" text-anchor="end" font-weight="bold" >20</text>
<line x1="52.7" y1="220.2" x2="54.0" y2="220.2" stroke="#111" stroke-width="0.5"/>
<text x="51.8" y="221.89999999999998" font-size="4.8" text-anchor="end" font-weight="bold" >40</text>
<line x1="52.7" y1="202.1" x2="54.0" y2="202.1" stroke="#111" stroke-width="0.5"/>
<text x="51.8" y="203.79999999999998" font-size="4.8" text-anchor="end" font-weight="bold" >60</text>
<line x1="52.7" y1="183.4" x2="54.0" y2="183.4" stroke="#111" stroke-width="0.5"/>
<text x="51.8" y="185.1" font-size="4.8" text-anchor="end" font-weight="bold" >80</text>
<text x="-0.6" y="209.8" font-size="5.2" text-anchor="start" font-weight="bold" textLength="42.2" lengthAdjust="spacingAndGlyphs" >% of Annexin V+</text>
<text x="6.2" y="216.3" font-size="5.2" text-anchor="start" font-weight="bold" textLength="29.8" lengthAdjust="spacingAndGlyphs" >CD8+T cells</text>
<circle cx="61.7" cy="225.1" r="1.55" fill="#fff" stroke="#111" stroke-width="0.7"/>
<circle cx="61.7" cy="231.4" r="1.55" fill="#fff" stroke="#111" stroke-width="0.7"/>
<circle cx="61.7" cy="237.6" r="1.55" fill="#fff" stroke="#111" stroke-width="0.7"/>
<circle cx="61.7" cy="245.2" r="1.55" fill="#fff" stroke="#111" stroke-width="0.7"/>
<circle cx="61.7" cy="250.2" r="1.55" fill="#fff" stroke="#111" stroke-width="0.7"/>
<circle cx="61.7" cy="253.5" r="1.55" fill="#fff" stroke="#111" stroke-width="0.7"/>
<line x1="55.6" y1="242.2" x2="67.6" y2="242.2" stroke="#111" stroke-width="0.9"/>
<circle cx="73.7" cy="218.6" r="1.6500000000000001" fill="#111" stroke="#111" stroke-width="0.7"/>
<circle cx="73.9" cy="228.4" r="1.6500000000000001" fill="#111" stroke="#111" stroke-width="0.7"/>
<circle cx="77" cy="245.9" r="1.6500000000000001" fill="#111" stroke="#111" stroke-width="0.7"/>
<circle cx="71.4" cy="251.4" r="1.6500000000000001" fill="#111" stroke="#111" stroke-width="0.7"/>
<circle cx="75.2" cy="251.4" r="1.6500000000000001" fill="#111" stroke="#111" stroke-width="0.7"/>
<circle cx="73.4" cy="254" r="1.6500000000000001" fill="#111" stroke="#111" stroke-width="0.7"/>
<line x1="68.4" y1="244.4" x2="79.6" y2="244.4" stroke="#111" stroke-width="0.9"/>
<polygon points="83.6,189.9 81.60499999999999,193.575 85.595,193.575" fill="#fff" stroke="#111" stroke-width="0.7" stroke-linejoin="miter"/>
<polygon points="82.1,193.1 80.10499999999999,196.77499999999998 84.095,196.77499999999998" fill="#fff" stroke="#111" stroke-width="0.7" stroke-linejoin="miter"/>
<polygon points="85.2,193.1 83.205,196.77499999999998 87.19500000000001,196.77499999999998" fill="#fff" stroke="#111" stroke-width="0.7" stroke-linejoin="miter"/>
<polygon points="81.4,196.1 79.405,199.77499999999998 83.39500000000001,199.77499999999998" fill="#fff" stroke="#111" stroke-width="0.7" stroke-linejoin="miter"/>
<polygon points="86,196.1 84.005,199.77499999999998 87.995,199.77499999999998" fill="#fff" stroke="#111" stroke-width="0.7" stroke-linejoin="miter"/>
<polygon points="82.2,198.6 80.205,202.27499999999998 84.19500000000001,202.27499999999998" fill="#fff" stroke="#111" stroke-width="0.7" stroke-linejoin="miter"/>
<polygon points="85.5,198.6 83.505,202.27499999999998 87.495,202.27499999999998" fill="#fff" stroke="#111" stroke-width="0.7" stroke-linejoin="miter"/>
<polygon points="83.9,226.8 81.905,230.475 85.89500000000001,230.475" fill="#fff" stroke="#111" stroke-width="0.7" stroke-linejoin="miter"/>
<line x1="77.9" y1="202.4" x2="89.7" y2="202.4" stroke="#111" stroke-width="0.9"/>
<polygon points="96.4,200.84799999999998 94.16560000000001,204.964 98.6344,204.964" fill="#111" stroke="#111" stroke-width="0.7" stroke-linejoin="miter"/>
<polygon points="96.4,207.84799999999998 94.16560000000001,211.964 98.6344,211.964" fill="#111" stroke="#111" stroke-width="0.7" stroke-linejoin="miter"/>
<polygon points="96.4,213.448 94.16560000000001,217.56400000000002 98.6344,217.56400000000002" fill="#111" stroke="#111" stroke-width="0.7" stroke-linejoin="miter"/>
<polygon points="96.4,220.048 94.16560000000001,224.16400000000002 98.6344,224.16400000000002" fill="#111" stroke="#111" stroke-width="0.7" stroke-linejoin="miter"/>
<polygon points="96.4,229.048 94.16560000000001,233.16400000000002 98.6344,233.16400000000002" fill="#111" stroke="#111" stroke-width="0.7" stroke-linejoin="miter"/>
<polygon points="96.4,245.34799999999998 94.16560000000001,249.464 98.6344,249.464" fill="#111" stroke="#111" stroke-width="0.7" stroke-linejoin="miter"/>
<line x1="90.4" y1="223.7" x2="101.4" y2="223.7" stroke="#111" stroke-width="0.9"/>
<polygon points="108.3,201.0 106.93599999999999,203.2 108.3,205.39999999999998 109.664,203.2" fill="#fff" stroke="#111" stroke-width="0.7"/>
<polygon points="108.3,208.20000000000002 106.93599999999999,210.4 108.3,212.6 109.664,210.4" fill="#fff" stroke="#111" stroke-width="0.7"/>
<polygon points="106.5,218.4 105.136,220.6 106.5,222.79999999999998 107.864,220.6" fill="#fff" stroke="#111" stroke-width="0.7"/>
<polygon points="110.4,218.4 109.036,220.6 110.4,222.79999999999998 111.76400000000001,220.6" fill="#fff" stroke="#111" stroke-width="0.7"/>
<polygon points="108.3,222.9 106.93599999999999,225.1 108.3,227.29999999999998 109.664,225.1" fill="#fff" stroke="#111" stroke-width="0.7"/>
<polygon points="108.3,226.20000000000002 106.93599999999999,228.4 108.3,230.6 109.664,228.4" fill="#fff" stroke="#111" stroke-width="0.7"/>
<polygon points="108.3,229.4 106.93599999999999,231.6 108.3,233.79999999999998 109.664,231.6" fill="#fff" stroke="#111" stroke-width="0.7"/>
<line x1="102.8" y1="219.4" x2="114.1" y2="219.4" stroke="#111" stroke-width="0.9"/>
<polygon points="119.1,219.0 117.73599999999999,221.2 119.1,223.39999999999998 120.464,221.2" fill="#111" stroke="#111" stroke-width="0.7"/>
<polygon points="119.1,222.10000000000002 117.73599999999999,224.3 119.1,226.5 120.464,224.3" fill="#111" stroke="#111" stroke-width="0.7"/>
<polygon points="119.1,225.4 117.73599999999999,227.6 119.1,229.79999999999998 120.464,227.6" fill="#111" stroke="#111" stroke-width="0.7"/>
<polygon points="119.1,228.4 117.73599999999999,230.6 119.1,232.79999999999998 120.464,230.6" fill="#111" stroke="#111" stroke-width="0.7"/>
<polygon points="119.1,231.60000000000002 117.73599999999999,233.8 119.1,236.0 120.464,233.8" fill="#111" stroke="#111" stroke-width="0.7"/>
<polygon points="119.1,234.4 117.73599999999999,236.6 119.1,238.79999999999998 120.464,236.6" fill="#111" stroke="#111" stroke-width="0.7"/>
<polygon points="117.3,246.20000000000002 115.93599999999999,248.4 117.3,250.6 118.664,248.4" fill="#111" stroke="#111" stroke-width="0.7"/>
<polygon points="120.9,246.20000000000002 119.536,248.4 120.9,250.6 122.26400000000001,248.4" fill="#111" stroke="#111" stroke-width="0.7"/>
<line x1="113.3" y1="238.1" x2="124" y2="238.1" stroke="#111" stroke-width="0.9"/>
<circle cx="131.4" cy="237.6" r="1.55" fill="#fff" stroke="#111" stroke-width="0.7"/>
<circle cx="135" cy="237.6" r="1.55" fill="#fff" stroke="#111" stroke-width="0.7"/>
<circle cx="129" cy="252.7" r="1.45" fill="#fff" stroke="#111" stroke-width="0.7"/>
<circle cx="131.7" cy="252.7" r="1.45" fill="#fff" stroke="#111" stroke-width="0.7"/>
<circle cx="134.5" cy="252.7" r="1.45" fill="#fff" stroke="#111" stroke-width="0.7"/>
<circle cx="137.3" cy="252.7" r="1.45" fill="#fff" stroke="#111" stroke-width="0.7"/>
<circle cx="139.9" cy="252.7" r="1.45" fill="#fff" stroke="#111" stroke-width="0.7"/>
<line x1="129" y1="247.4" x2="138.2" y2="247.4" stroke="#111" stroke-width="0.9"/>
<circle cx="144.4" cy="239.4" r="1.45" fill="#111" stroke="#111" stroke-width="0.7"/>
<circle cx="144.4" cy="245.6" r="1.45" fill="#111" stroke="#111" stroke-width="0.7"/>
<circle cx="143" cy="249.3" r="1.45" fill="#111" stroke="#111" stroke-width="0.7"/>
<circle cx="146" cy="249.3" r="1.45" fill="#111" stroke="#111" stroke-width="0.7"/>
<circle cx="142.6" cy="252.4" r="1.45" fill="#111" stroke="#111" stroke-width="0.7"/>
<circle cx="146.4" cy="252.4" r="1.45" fill="#111" stroke="#111" stroke-width="0.7"/>
<circle cx="144.4" cy="254.2" r="1.45" fill="#111" stroke="#111" stroke-width="0.7"/>
<line x1="140.4" y1="249.4" x2="149.2" y2="249.4" stroke="#111" stroke-width="0.9"/>
<polygon points="155.9,200.9 153.905,204.575 157.895,204.575" fill="#fff" stroke="#111" stroke-width="0.7" stroke-linejoin="miter"/>
<polygon points="155.9,209.20000000000002 153.905,212.875 157.895,212.875" fill="#fff" stroke="#111" stroke-width="0.7" stroke-linejoin="miter"/>
<polygon points="155.9,213.6 153.905,217.27499999999998 157.895,217.27499999999998" fill="#fff" stroke="#111" stroke-width="0.7" stroke-linejoin="miter"/>
<polygon points="155.9,233.0 153.905,236.67499999999998 157.895,236.67499999999998" fill="#fff" stroke="#111" stroke-width="0.7" stroke-linejoin="miter"/>
<polygon points="155.9,238.8 153.905,242.475 157.895,242.475" fill="#fff" stroke="#111" stroke-width="0.7" stroke-linejoin="miter"/>
<polygon points="155.9,242.4 153.905,246.075 157.895,246.075" fill="#fff" stroke="#111" stroke-width="0.7" stroke-linejoin="miter"/>
<polygon points="155.9,245.6 153.905,249.27499999999998 157.895,249.27499999999998" fill="#fff" stroke="#111" stroke-width="0.7" stroke-linejoin="miter"/>
<polygon points="155.9,248.5 153.905,252.17499999999998 157.895,252.17499999999998" fill="#fff" stroke="#111" stroke-width="0.7" stroke-linejoin="miter"/>
<line x1="151.3" y1="230.1" x2="160.4" y2="230.1" stroke="#111" stroke-width="0.9"/>
<polygon points="165.1,229.048 162.8656,233.16400000000002 167.3344,233.16400000000002" fill="#111" stroke="#111" stroke-width="0.7" stroke-linejoin="miter"/>
<polygon points="168.9,229.048 166.6656,233.16400000000002 171.1344,233.16400000000002" fill="#111" stroke="#111" stroke-width="0.7" stroke-linejoin="miter"/>
<polygon points="166.9,233.34799999999998 164.6656,237.464 169.1344,237.464" fill="#111" stroke="#111" stroke-width="0.7" stroke-linejoin="miter"/>
<polygon points="166.9,240.84799999999998 164.6656,244.964 169.1344,244.964" fill="#111" stroke="#111" stroke-width="0.7" stroke-linejoin="miter"/>
<polygon points="166.9,244.048 164.6656,248.16400000000002 169.1344,248.16400000000002" fill="#111" stroke="#111" stroke-width="0.7" stroke-linejoin="miter"/>
<polygon points="166.9,247.048 164.6656,251.16400000000002 169.1344,251.16400000000002" fill="#111" stroke="#111" stroke-width="0.7" stroke-linejoin="miter"/>
<polygon points="166.9,249.648 164.6656,253.764 169.1344,253.764" fill="#111" stroke="#111" stroke-width="0.7" stroke-linejoin="miter"/>
<line x1="162.7" y1="240.4" x2="171.4" y2="240.4" stroke="#111" stroke-width="0.9"/>
<polygon points="177.2,216.60000000000002 175.83599999999998,218.8 177.2,221.0 178.564,218.8" fill="#fff" stroke="#111" stroke-width="0.7"/>
<polygon points="177.2,219.3 175.83599999999998,221.5 177.2,223.7 178.564,221.5" fill="#fff" stroke="#111" stroke-width="0.7"/>
<polygon points="177.2,222.4 175.83599999999998,224.6 177.2,226.79999999999998 178.564,224.6" fill="#fff" stroke="#111" stroke-width="0.7"/>
<polygon points="177.2,229.70000000000002 175.83599999999998,231.9 177.2,234.1 178.564,231.9" fill="#fff" stroke="#111" stroke-width="0.7"/>
<polygon points="177.2,232.9 175.83599999999998,235.1 177.2,237.29999999999998 178.564,235.1" fill="#fff" stroke="#111" stroke-width="0.7"/>
<polygon points="177.2,236.10000000000002 175.83599999999998,238.3 177.2,240.5 178.564,238.3" fill="#fff" stroke="#111" stroke-width="0.7"/>
<polygon points="177.2,242.20000000000002 175.83599999999998,244.4 177.2,246.6 178.564,244.4" fill="#fff" stroke="#111" stroke-width="0.7"/>
<polygon points="177.2,245.5 175.83599999999998,247.7 177.2,249.89999999999998 178.564,247.7" fill="#fff" stroke="#111" stroke-width="0.7"/>
<polygon points="177.2,249.20000000000002 175.83599999999998,251.4 177.2,253.6 178.564,251.4" fill="#fff" stroke="#111" stroke-width="0.7"/>
<polygon points="177.2,252.10000000000002 175.83599999999998,254.3 177.2,256.5 178.564,254.3" fill="#fff" stroke="#111" stroke-width="0.7"/>
<line x1="173.5" y1="239.4" x2="181.5" y2="239.4" stroke="#111" stroke-width="0.9"/>
<polygon points="187.3,232.20000000000002 185.936,234.4 187.3,236.6 188.66400000000002,234.4" fill="#111" stroke="#111" stroke-width="0.7"/>
<polygon points="187.3,235.0 185.936,237.2 187.3,239.39999999999998 188.66400000000002,237.2" fill="#111" stroke="#111" stroke-width="0.7"/>
<polygon points="187.3,238.0 185.936,240.2 187.3,242.39999999999998 188.66400000000002,240.2" fill="#111" stroke="#111" stroke-width="0.7"/>
<polygon points="187.3,241.0 185.936,243.2 187.3,245.39999999999998 188.66400000000002,243.2" fill="#111" stroke="#111" stroke-width="0.7"/>
<polygon points="187.3,244.0 185.936,246.2 187.3,248.39999999999998 188.66400000000002,246.2" fill="#111" stroke="#111" stroke-width="0.7"/>
<polygon points="184,246.4 182.636,248.6 184,250.79999999999998 185.364,248.6" fill="#111" stroke="#111" stroke-width="0.7"/>
<polygon points="187.3,246.4 185.936,248.6 187.3,250.79999999999998 188.66400000000002,248.6" fill="#111" stroke="#111" stroke-width="0.7"/>
<polygon points="190.4,246.4 189.036,248.6 190.4,250.79999999999998 191.764,248.6" fill="#111" stroke="#111" stroke-width="0.7"/>
<polygon points="187.3,250.5 185.936,252.7 187.3,254.89999999999998 188.66400000000002,252.7" fill="#111" stroke="#111" stroke-width="0.7"/>
<line x1="182.7" y1="248.5" x2="192" y2="248.5" stroke="#111" stroke-width="0.9"/>
<polyline points="83.2,174.8 83.2,173.3 155.1,173.3 155.1,174.8" fill="none" stroke="#111" stroke-width="0.7"/>
<text x="105.82" y="173.80" font-size="4.7" text-anchor="middle" style="stroke-width:0.05px">*</text>
<text x="109.37" y="173.80" font-size="4.7" text-anchor="middle" style="stroke-width:0.05px">*</text>
<polyline points="96,181.1 96,179.6 168.2,179.6 168.2,181.1" fill="none" stroke="#111" stroke-width="0.7"/>
<text x="140.22" y="180.80" font-size="4.7" text-anchor="middle" style="stroke-width:0.05px">*</text>
<text x="143.78" y="180.80" font-size="4.7" text-anchor="middle" style="stroke-width:0.05px">*</text>
<polyline points="108,190.4 108,188.8 180.2,188.8 180.2,190.4" fill="none" stroke="#111" stroke-width="0.7"/>
<text x="138.10" y="188.40" font-size="4.7" text-anchor="middle" style="stroke-width:0.05px">*</text>
<polyline points="83.2,187.70000000000002 83.2,186.4 96.6,186.4 96.6,187.70000000000002" fill="none" stroke="#111" stroke-width="0.7"/>
<text x="87.80" y="186.70" font-size="4.7" text-anchor="middle" style="stroke-width:0.05px">*</text>
<polyline points="107.7,199.2 107.7,197.7 121.2,197.7 121.2,199.2" fill="none" stroke="#111" stroke-width="0.7"/>
<text x="111.82" y="198.40" font-size="4.7" text-anchor="middle" style="stroke-width:0.05px">*</text>
<text x="115.37" y="198.40" font-size="4.7" text-anchor="middle" style="stroke-width:0.05px">*</text>
<text x="62.80" y="267.50" font-size="4.7" text-anchor="middle" style="stroke-width:0.05px">*</text>
<text x="67.8" y="266.2" font-size="5.2" textLength="16.4" lengthAdjust="spacingAndGlyphs"><tspan font-style="italic">P</tspan> &#8804; .04</text>
<text x="58.73" y="274.70" font-size="4.7" text-anchor="middle" style="stroke-width:0.05px">*</text>
<text x="62.27" y="274.70" font-size="4.7" text-anchor="middle" style="stroke-width:0.05px">*</text>
<text x="67.8" y="273.4" font-size="5.2" textLength="16.4" lengthAdjust="spacingAndGlyphs"><tspan font-style="italic">P</tspan> &lt; .02</text>
<circle cx="103.8" cy="263.1" r="1.3" fill="#fff" stroke="#111" stroke-width="0.7"/>
<circle cx="108.4" cy="263.1" r="1.45" fill="#111" stroke="#111" stroke-width="0.7"/>
<text x="113.1" y="264.9" font-size="5" text-anchor="start" font-weight="bold" textLength="60.2" lengthAdjust="spacingAndGlyphs" >Spontaneous apoptosis</text>
<polygon points="103.8,269.29999999999995 102.28,272.09999999999997 105.32,272.09999999999997" fill="#fff" stroke="#111" stroke-width="0.7" stroke-linejoin="miter"/>
<polygon points="108.4,269.108 106.69760000000001,272.24399999999997 110.1024,272.24399999999997" fill="#111" stroke="#111" stroke-width="0.7" stroke-linejoin="miter"/>
<text x="113.1" y="272.7" font-size="5" text-anchor="start" font-weight="bold" textLength="72.6" lengthAdjust="spacingAndGlyphs" >CD95/Fas-induced apoptosis</text>
<polygon points="103.8,276.5 102.746,278.2 103.8,279.9 104.854,278.2" fill="#fff" stroke="#111" stroke-width="0.7"/>
<polygon points="108.4,276.4 107.284,278.2 108.4,280.0 109.516,278.2" fill="#111" stroke="#111" stroke-width="0.7"/>
<text x="113.1" y="279.9" font-size="5" text-anchor="start" font-weight="bold" textLength="94.4" lengthAdjust="spacingAndGlyphs" >Specific CD95/Fas-induced apoptosis</text>
<circle cx="103.2" cy="287.8" r="1.2" fill="#fff" stroke="#111" stroke-width="0.7"/>
<polygon points="107.5,286.2 105.98,289.0 109.02,289.0" fill="#fff" stroke="#111" stroke-width="0.7" stroke-linejoin="miter"/>
<polygon points="112,286.1 110.946,287.8 112,289.5 113.054,287.8" fill="#fff" stroke="#111" stroke-width="0.7"/>
<text x="114.4" y="289.6" font-size="5" text-anchor="start" font-weight="bold" textLength="48.1" lengthAdjust="spacingAndGlyphs" >CD38+CD8+ T cells</text>
<circle cx="103.2" cy="295.3" r="1.4" fill="#111" stroke="#111" stroke-width="0.7"/>
<polygon points="107.5,293.50800000000004 105.7976,296.644 109.2024,296.644" fill="#111" stroke="#111" stroke-width="0.7" stroke-linejoin="miter"/>
<polygon points="112,293.5 110.884,295.3 112,297.1 113.116,295.3" fill="#111" stroke="#111" stroke-width="0.7"/>
<text x="114.4" y="297.2" font-size="5" text-anchor="start" font-weight="bold" textLength="47.4" lengthAdjust="spacingAndGlyphs" >CD38-CD8+ T cells</text>
<text x="255.3" y="156" font-size="13.4" text-anchor="start" font-weight="bold" >D</text>
<rect x="285.6" y="164.9" width="129.29999999999995" height="89.19999999999999" fill="none" stroke="#111" stroke-width="0.9"/>
<line x1="350.4" y1="164.9" x2="350.4" y2="254.1" stroke="#111" stroke-width="0.9"/>
<text x="292.7" y="162.1" font-size="5" text-anchor="start" font-weight="bold" textLength="48.2" lengthAdjust="spacingAndGlyphs" >CD38+CD8+ T cells</text>
<text x="357.3" y="161.2" font-size="5" text-anchor="start" font-weight="bold" textLength="46.8" lengthAdjust="spacingAndGlyphs" >CD38-CD8+ T cells</text>
<line x1="284.3" y1="253.5" x2="285.6" y2="253.5" stroke="#111" stroke-width="0.5"/>
<text x="283.70000000000005" y="255.0" font-size="3.5" text-anchor="end" font-weight="bold" >0</text>
<line x1="284.70000000000005" y1="246.35" x2="285.6" y2="246.35" stroke="#111" stroke-width="0.4"/>
<line x1="284.3" y1="239.2" x2="285.6" y2="239.2" stroke="#111" stroke-width="0.5"/>
<text x="283.70000000000005" y="240.7" font-size="3.5" text-anchor="end" font-weight="bold" >200</text>
<line x1="284.70000000000005" y1="232.04999999999998" x2="285.6" y2="232.04999999999998" stroke="#111" stroke-width="0.4"/>
<line x1="284.3" y1="224.9" x2="285.6" y2="224.9" stroke="#111" stroke-width="0.5"/>
<text x="283.70000000000005" y="226.4" font-size="3.5" text-anchor="end" font-weight="bold" >400</text>
<line x1="284.70000000000005" y1="217.75" x2="285.6" y2="217.75" stroke="#111" stroke-width="0.4"/>
<line x1="284.3" y1="210.6" x2="285.6" y2="210.6" stroke="#111" stroke-width="0.5"/>
<text x="283.70000000000005" y="212.1" font-size="3.5" text-anchor="end" font-weight="bold" >600</text>
<line x1="284.70000000000005" y1="203.45" x2="285.6" y2="203.45" stroke="#111" stroke-width="0.4"/>
<line x1="284.3" y1="196.3" x2="285.6" y2="196.3" stroke="#111" stroke-width="0.5"/>
<text x="283.70000000000005" y="197.8" font-size="3.5" text-anchor="end" font-weight="bold" >800</text>
<line x1="284.70000000000005" y1="189.15" x2="285.6" y2="189.15" stroke="#111" stroke-width="0.4"/>
<line x1="284.3" y1="182.0" x2="285.6" y2="182.0" stroke="#111" stroke-width="0.5"/>
<text x="283.70000000000005" y="183.5" font-size="3.5" text-anchor="end" font-weight="bold" >1000</text>
<text x="264" y="207.3" font-size="5.6" text-anchor="start" font-weight="bold" textLength="8.7" lengthAdjust="spacingAndGlyphs" >MFI</text>
<text x="262.3" y="213.8" font-size="5.6" text-anchor="start" font-weight="bold" textLength="12.6" lengthAdjust="spacingAndGlyphs" >Bcl-2</text>
<rect x="292.15000000000003" y="205.95" width="3.3" height="3.3" fill="#111" stroke="#111" stroke-width="0.0"/>
<rect x="292.15000000000003" y="209.85" width="3.3" height="3.3" fill="#111" stroke="#111" stroke-width="0.0"/>
<rect x="292.15000000000003" y="216.45" width="3.3" height="3.3" fill="#111" stroke="#111" stroke-width="0.0"/>
<rect x="292.15000000000003" y="220.95" width="3.3" height="3.3" fill="#111" stroke="#111" stroke-width="0.0"/>
<rect x="292.15000000000003" y="223.65" width="3.3" height="3.3" fill="#111" stroke="#111" stroke-width="0.0"/>
<rect x="292.15000000000003" y="226.85" width="3.3" height="3.3" fill="#111" stroke="#111" stroke-width="0.0"/>
<rect x="292.15000000000003" y="229.85" width="3.3" height="3.3" fill="#111" stroke="#111" stroke-width="0.0"/>
<rect x="292.15000000000003" y="234.25" width="3.3" height="3.3" fill="#111" stroke="#111" stroke-width="0.0"/>
<rect x="292.15000000000003" y="245.25" width="3.3" height="3.3" fill="#111" stroke="#111" stroke-width="0.0"/>
<line x1="288" y1="224.7" x2="299.6" y2="224.7" stroke="#111" stroke-width="0.9"/>
<circle cx="311.2" cy="217.1" r="1.6500000000000001" fill="#111" stroke="#111" stroke-width="0.7"/>
<circle cx="309.2" cy="219.5" r="1.6500000000000001" fill="#111" stroke="#111" stroke-width="0.7"/>
<circle cx="313.1" cy="219.5" r="1.6500000000000001" fill="#111" stroke="#111" stroke-width="0.7"/>
<circle cx="310.9" cy="222" r="1.6500000000000001" fill="#111" stroke="#111" stroke-width="0.7"/>
<circle cx="307.3" cy="224.4" r="1.6500000000000001" fill="#111" stroke="#111" stroke-width="0.7"/>
<circle cx="310.8" cy="224.6" r="1.6500000000000001" fill="#111" stroke="#111" stroke-width="0.7"/>
<circle cx="314.5" cy="224.4" r="1.6500000000000001" fill="#111" stroke="#111" stroke-width="0.7"/>
<circle cx="309.2" cy="227.2" r="1.6500000000000001" fill="#111" stroke="#111" stroke-width="0.7"/>
<circle cx="313.1" cy="227.2" r="1.6500000000000001" fill="#111" stroke="#111" stroke-width="0.7"/>
<circle cx="307.3" cy="230.1" r="1.6500000000000001" fill="#111" stroke="#111" stroke-width="0.7"/>
<circle cx="310.8" cy="230.2" r="1.6500000000000001" fill="#111" stroke="#111" stroke-width="0.7"/>
<circle cx="314.3" cy="230.1" r="1.6500000000000001" fill="#111" stroke="#111" stroke-width="0.7"/>
<circle cx="308.3" cy="232.8" r="1.6500000000000001" fill="#111" stroke="#111" stroke-width="0.7"/>
<circle cx="312" cy="232.8" r="1.6500000000000001" fill="#111" stroke="#111" stroke-width="0.7"/>
<circle cx="315.2" cy="232.6" r="1.6500000000000001" fill="#111" stroke="#111" stroke-width="0.7"/>
<circle cx="309.4" cy="235.2" r="1.6500000000000001" fill="#111" stroke="#111" stroke-width="0.7"/>
<circle cx="312.4" cy="235.2" r="1.6500000000000001" fill="#111" stroke="#111" stroke-width="0.7"/>
<circle cx="308.2" cy="238" r="1.6500000000000001" fill="#111" stroke="#111" stroke-width="0.7"/>
<circle cx="311.2" cy="238.1" r="1.6500000000000001" fill="#111" stroke="#111" stroke-width="0.7"/>
<circle cx="314.2" cy="238" r="1.6500000000000001" fill="#111" stroke="#111" stroke-width="0.7"/>
<circle cx="309.2" cy="241.1" r="1.6500000000000001" fill="#111" stroke="#111" stroke-width="0.7"/>
<circle cx="312.2" cy="241.2" r="1.6500000000000001" fill="#111" stroke="#111" stroke-width="0.7"/>
<circle cx="314.7" cy="241" r="1.6500000000000001" fill="#111" stroke="#111" stroke-width="0.7"/>
<circle cx="309.4" cy="244.2" r="1.6500000000000001" fill="#111" stroke="#111" stroke-width="0.7"/>
<circle cx="312.2" cy="244.2" r="1.6500000000000001" fill="#111" stroke="#111" stroke-width="0.7"/>
<circle cx="309.6" cy="246.8" r="1.6500000000000001" fill="#111" stroke="#111" stroke-width="0.7"/>
<circle cx="311.6" cy="247" r="1.6500000000000001" fill="#111" stroke="#111" stroke-width="0.7"/>
<line x1="300.6" y1="232.7" x2="319.7" y2="232.7" stroke="#111" stroke-width="0.9"/>
<polygon points="326.8,226.34799999999998 324.5656,230.464 329.0344,230.464" fill="#111" stroke="#111" stroke-width="0.7" stroke-linejoin="miter"/>
<polygon points="329,232.648 326.7656,236.764 331.2344,236.764" fill="#111" stroke="#111" stroke-width="0.7" stroke-linejoin="miter"/>
<polygon points="324.9,235.648 322.6656,239.764 327.13439999999997,239.764" fill="#111" stroke="#111" stroke-width="0.7" stroke-linejoin="miter"/>
<polygon points="329.3,235.648 327.0656,239.764 331.5344,239.764" fill="#111" stroke="#111" stroke-width="0.7" stroke-linejoin="miter"/>
<polygon points="326.7,239.548 324.4656,243.66400000000002 328.9344,243.66400000000002" fill="#111" stroke="#111" stroke-width="0.7" stroke-linejoin="miter"/>
<polygon points="324.6,243.84799999999998 322.36560000000003,247.964 326.8344,247.964" fill="#111" stroke="#111" stroke-width="0.7" stroke-linejoin="miter"/>
<polygon points="328.6,243.84799999999998 326.36560000000003,247.964 330.8344,247.964" fill="#111" stroke="#111" stroke-width="0.7" stroke-linejoin="miter"/>
<polygon points="326.7,248.448 324.4656,252.56400000000002 328.9344,252.56400000000002" fill="#111" stroke="#111" stroke-width="0.7" stroke-linejoin="miter"/>
<line x1="317.7" y1="242.2" x2="332.7" y2="242.2" stroke="#111" stroke-width="0.9"/>
<polygon points="340.3,219.20000000000002 338.93600000000004,221.4 340.3,223.6 341.664,221.4" fill="#111" stroke="#111" stroke-width="0.7"/>
<polygon points="340.3,225.4 338.93600000000004,227.6 340.3,229.79999999999998 341.664,227.6" fill="#111" stroke="#111" stroke-width="0.7"/>
<polygon points="338.2,228.0 336.836,230.2 338.2,232.39999999999998 339.56399999999996,230.2" fill="#111" stroke="#111" stroke-width="0.7"/>
<polygon points="342.6,228.0 341.23600000000005,230.2 342.6,232.39999999999998 343.964,230.2" fill="#111" stroke="#111" stroke-width="0.7"/>
<polygon points="340.3,231.20000000000002 338.93600000000004,233.4 340.3,235.6 341.664,233.4" fill="#111" stroke="#111" stroke-width="0.7"/>
<polygon points="338.4,234.20000000000002 337.036,236.4 338.4,238.6 339.76399999999995,236.4" fill="#111" stroke="#111" stroke-width="0.7"/>
<polygon points="342.4,234.20000000000002 341.036,236.4 342.4,238.6 343.76399999999995,236.4" fill="#111" stroke="#111" stroke-width="0.7"/>
<polygon points="340.3,237.60000000000002 338.93600000000004,239.8 340.3,242.0 341.664,239.8" fill="#111" stroke="#111" stroke-width="0.7"/>
<polygon points="340.3,240.60000000000002 338.93600000000004,242.8 340.3,245.0 341.664,242.8" fill="#111" stroke="#111" stroke-width="0.7"/>
<polygon points="340.3,243.70000000000002 338.93600000000004,245.9 340.3,248.1 341.664,245.9" fill="#111" stroke="#111" stroke-width="0.7"/>
<line x1="334" y1="233.9" x2="346.5" y2="233.9" stroke="#111" stroke-width="0.9"/>
<polyline points="294.8,187.60000000000002 294.8,184.3 340.4,184.3 340.4,187.60000000000002" fill="none" stroke="#111" stroke-width="0.85"/>
<text x="315.43" y="185.40" font-size="4.7" text-anchor="middle" style="stroke-width:0.05px">*</text>
<text x="318.98" y="185.40" font-size="4.7" text-anchor="middle" style="stroke-width:0.05px">*</text>
<polyline points="294.4,195.4 294.4,192.4 326.4,192.4 326.4,195.4" fill="none" stroke="#111" stroke-width="0.85"/>
<text x="306.75" y="193.30" font-size="4.7" text-anchor="middle" style="stroke-width:0.05px">*</text>
<text x="310.30" y="193.30" font-size="4.7" text-anchor="middle" style="stroke-width:0.05px">*</text>
<text x="313.85" y="193.30" font-size="4.7" text-anchor="middle" style="stroke-width:0.05px">*</text>
<polyline points="292.9,204.5 292.9,201.3 310,201.3 310,204.5" fill="none" stroke="#111" stroke-width="0.85"/>
<text x="297.95" y="202.80" font-size="4.7" text-anchor="middle" style="stroke-width:0.05px">*</text>
<text x="301.50" y="202.80" font-size="4.7" text-anchor="middle" style="stroke-width:0.05px">*</text>
<text x="305.05" y="202.80" font-size="4.7" text-anchor="middle" style="stroke-width:0.05px">*</text>
<polyline points="311.2,211.9 311.2,208.9 327.1,208.9 327.1,211.9" fill="none" stroke="#111" stroke-width="0.85"/>
<text x="317.12" y="210.00" font-size="4.7" text-anchor="middle" style="stroke-width:0.05px">*</text>
<text x="320.68" y="210.00" font-size="4.7" text-anchor="middle" style="stroke-width:0.05px">*</text>
<polyline points="327.6,218.29999999999998 327.6,215.6 341,215.6 341,218.29999999999998" fill="none" stroke="#111" stroke-width="0.85"/>
<text x="334.00" y="216.30" font-size="4.7" text-anchor="middle" style="stroke-width:0.05px">*</text>
<rect x="355.4" y="202.0" width="3.2" height="3.2" fill="#fff" stroke="#111" stroke-width="0.7"/>
<rect x="360.79999999999995" y="202.0" width="3.2" height="3.2" fill="#fff" stroke="#111" stroke-width="0.7"/>
<rect x="357.79999999999995" y="207.20000000000002" width="3.2" height="3.2" fill="#fff" stroke="#111" stroke-width="0.7"/>
<rect x="357.79999999999995" y="211.6" width="3.2" height="3.2" fill="#fff" stroke="#111" stroke-width="0.7"/>
<rect x="355.79999999999995" y="216.0" width="3.2" height="3.2" fill="#fff" stroke="#111" stroke-width="0.7"/>
<rect x="360.0" y="216.0" width="3.2" height="3.2" fill="#fff" stroke="#111" stroke-width="0.7"/>
<rect x="357.79999999999995" y="220.20000000000002" width="3.2" height="3.2" fill="#fff" stroke="#111" stroke-width="0.7"/>
<rect x="357.79999999999995" y="224.20000000000002" width="3.2" height="3.2" fill="#fff" stroke="#111" stroke-width="0.7"/>
<rect x="357.59999999999997" y="239.5" width="3.2" height="3.2" fill="#fff" stroke="#111" stroke-width="0.7"/>
<line x1="352.8" y1="217.7" x2="365.4" y2="217.7" stroke="#111" stroke-width="0.9"/>
<circle cx="373.9" cy="191.2" r="1.55" fill="#fff" stroke="#111" stroke-width="0.7"/>
<circle cx="373.9" cy="194.5" r="1.55" fill="#fff" stroke="#111" stroke-width="0.7"/>
<circle cx="372.7" cy="207.7" r="1.5" fill="#fff" stroke="#111" stroke-width="0.7"/>
<circle cx="376.1" cy="207.7" r="1.5" fill="#fff" stroke="#111" stroke-width="0.7"/>
<circle cx="370.7" cy="211.1" r="1.5" fill="#fff" stroke="#111" stroke-width="0.7"/>
<circle cx="374.4" cy="211.1" r="1.5" fill="#fff" stroke="#111" stroke-width="0.7"/>
<circle cx="378" cy="211.1" r="1.5" fill="#fff" stroke="#111" stroke-width="0.7"/>
<circle cx="372.7" cy="214.3" r="1.5" fill="#fff" stroke="#111" stroke-width="0.7"/>
<circle cx="376.1" cy="214.3" r="1.5" fill="#fff" stroke="#111" stroke-width="0.7"/>
<circle cx="370.7" cy="217.4" r="1.5" fill="#fff" stroke="#111" stroke-width="0.7"/>
<circle cx="374.4" cy="217.4" r="1.5" fill="#fff" stroke="#111" stroke-width="0.7"/>
<circle cx="378" cy="217.4" r="1.5" fill="#fff" stroke="#111" stroke-width="0.7"/>
<circle cx="369" cy="220.9" r="1.5" fill="#fff" stroke="#111" stroke-width="0.7"/>
<circle cx="372.4" cy="220.9" r="1.5" fill="#fff" stroke="#111" stroke-width="0.7"/>
<circle cx="375.8" cy="220.9" r="1.5" fill="#fff" stroke="#111" stroke-width="0.7"/>
<circle cx="379.2" cy="220.9" r="1.5" fill="#fff" stroke="#111" stroke-width="0.7"/>
<circle cx="372.7" cy="224" r="1.5" fill="#fff" stroke="#111" stroke-width="0.7"/>
<circle cx="376.1" cy="224" r="1.5" fill="#fff" stroke="#111" stroke-width="0.7"/>
<circle cx="374.4" cy="227.2" r="1.5" fill="#fff" stroke="#111" stroke-width="0.7"/>
<circle cx="377.2" cy="227.4" r="1.5" fill="#fff" stroke="#111" stroke-width="0.7"/>
<circle cx="372.7" cy="230.6" r="1.5" fill="#fff" stroke="#111" stroke-width="0.7"/>
<circle cx="376.1" cy="230.6" r="1.5" fill="#fff" stroke="#111" stroke-width="0.7"/>
<circle cx="374.4" cy="233.8" r="1.5" fill="#fff" stroke="#111" stroke-width="0.7"/>
<circle cx="376.6" cy="234" r="1.5" fill="#fff" stroke="#111" stroke-width="0.7"/>
<circle cx="374.4" cy="236.9" r="1.5" fill="#fff" stroke="#111" stroke-width="0.7"/>
<circle cx="372.7" cy="241.1" r="1.5" fill="#fff" stroke="#111" stroke-width="0.7"/>
<circle cx="376.2" cy="241.1" r="1.5" fill="#fff" stroke="#111" stroke-width="0.7"/>
<line x1="364.9" y1="221.3" x2="382.9" y2="221.3" stroke="#111" stroke-width="0.9"/>
<polygon points="389.7,221.0 387.8,224.5 391.59999999999997,224.5" fill="#fff" stroke="#111" stroke-width="0.7" stroke-linejoin="miter"/>
<polygon points="389.7,224.2 387.8,227.7 391.59999999999997,227.7" fill="#fff" stroke="#111" stroke-width="0.7" stroke-linejoin="miter"/>
<polygon points="389.7,227.2 387.8,230.7 391.59999999999997,230.7" fill="#fff" stroke="#111" stroke-width="0.7" stroke-linejoin="miter"/>
<polygon points="389.7,230.6 387.8,234.1 391.59999999999997,234.1" fill="#fff" stroke="#111" stroke-width="0.7" stroke-linejoin="miter"/>
<polygon points="389.7,238.2 387.8,241.7 391.59999999999997,241.7" fill="#fff" stroke="#111" stroke-width="0.7" stroke-linejoin="miter"/>
<polygon points="387.6,241.8 385.70000000000005,245.3 389.5,245.3" fill="#fff" stroke="#111" stroke-width="0.7" stroke-linejoin="miter"/>
<polygon points="392,241.8 390.1,245.3 393.9,245.3" fill="#fff" stroke="#111" stroke-width="0.7" stroke-linejoin="miter"/>
<polygon points="389.7,244.6 387.8,248.1 391.59999999999997,248.1" fill="#fff" stroke="#111" stroke-width="0.7" stroke-linejoin="miter"/>
<polygon points="387.8,247.6 385.90000000000003,251.1 389.7,251.1" fill="#fff" stroke="#111" stroke-width="0.7" stroke-linejoin="miter"/>
<polygon points="391.8,247.6 389.90000000000003,251.1 393.7,251.1" fill="#fff" stroke="#111" stroke-width="0.7" stroke-linejoin="miter"/>
<line x1="384.4" y1="236.2" x2="395" y2="236.2" stroke="#111" stroke-width="0.9"/>
<polygon points="405.2,206.4 403.96,208.4 405.2,210.4 406.44,208.4" fill="#fff" stroke="#111" stroke-width="0.7"/>
<polygon points="405.2,210.0 403.96,212 405.2,214.0 406.44,212" fill="#fff" stroke="#111" stroke-width="0.7"/>
<polygon points="403.4,213.0 402.15999999999997,215 403.4,217.0 404.64,215" fill="#fff" stroke="#111" stroke-width="0.7"/>
<polygon points="407,213.0 405.76,215 407,217.0 408.24,215" fill="#fff" stroke="#111" stroke-width="0.7"/>
<polygon points="401.8,216.2 400.56,218.2 401.8,220.2 403.04,218.2" fill="#fff" stroke="#111" stroke-width="0.7"/>
<polygon points="405.2,216.2 403.96,218.2 405.2,220.2 406.44,218.2" fill="#fff" stroke="#111" stroke-width="0.7"/>
<polygon points="408.6,216.2 407.36,218.2 408.6,220.2 409.84000000000003,218.2" fill="#fff" stroke="#111" stroke-width="0.7"/>
<polygon points="403.6,220.6 402.36,222.6 403.6,224.6 404.84000000000003,222.6" fill="#fff" stroke="#111" stroke-width="0.7"/>
<polygon points="407.4,220.6 406.15999999999997,222.6 407.4,224.6 408.64,222.6" fill="#fff" stroke="#111" stroke-width="0.7"/>
<polygon points="404.2,224.5 402.96,226.5 404.2,228.5 405.44,226.5" fill="#fff" stroke="#111" stroke-width="0.7"/>
<polygon points="407.2,224.5 405.96,226.5 407.2,228.5 408.44,226.5" fill="#fff" stroke="#111" stroke-width="0.7"/>
<polygon points="405.7,227.6 404.46,229.6 405.7,231.6 406.94,229.6" fill="#fff" stroke="#111" stroke-width="0.7"/>
<polygon points="405.7,230.8 404.46,232.8 405.7,234.8 406.94,232.8" fill="#fff" stroke="#111" stroke-width="0.7"/>
<polygon points="405.7,234.0 404.46,236 405.7,238.0 406.94,236" fill="#fff" stroke="#111" stroke-width="0.7"/>
<line x1="396.5" y1="221.7" x2="413" y2="221.7" stroke="#111" stroke-width="0.9"/>
<polyline points="361.3,178.1 361.3,175.1 393.5,175.1 393.5,178.1" fill="none" stroke="#111" stroke-width="0.85"/>
<text x="372.85" y="175.70" font-size="4.7" text-anchor="middle" style="stroke-width:0.05px">*</text>
<text x="376.40" y="175.70" font-size="4.7" text-anchor="middle" style="stroke-width:0.05px">*</text>
<text x="379.95" y="175.70" font-size="4.7" text-anchor="middle" style="stroke-width:0.05px">*</text>
<polyline points="373.9,187.20000000000002 373.9,184.4 389.4,184.4 389.4,187.20000000000002" fill="none" stroke="#111" stroke-width="0.85"/>
<text x="381.20" y="185.10" font-size="4.7" text-anchor="middle" style="stroke-width:0.05px">*</text>
<polyline points="389.4,204.8 389.4,202 405.7,202 405.7,204.8" fill="none" stroke="#111" stroke-width="0.85"/>
<text x="395.43" y="202.50" font-size="4.7" text-anchor="middle" style="stroke-width:0.05px">*</text>
<text x="398.98" y="202.50" font-size="4.7" text-anchor="middle" style="stroke-width:0.05px">*</text>
<text x="306.20" y="266.80" font-size="4.7" text-anchor="middle" style="stroke-width:0.05px">*</text>
<text x="311.3" y="266.5" font-size="5.2" textLength="16.9" lengthAdjust="spacingAndGlyphs"><tspan font-style="italic">P</tspan> &lt; .04</text>
<text x="302.30" y="273.50" font-size="4.7" text-anchor="middle" style="stroke-width:0.05px">*</text>
<text x="306.50" y="273.50" font-size="4.7" text-anchor="middle" style="stroke-width:0.05px">*</text>
<text x="311.3" y="273.8" font-size="5.2" textLength="16.9" lengthAdjust="spacingAndGlyphs"><tspan font-style="italic">P</tspan> &lt; .02</text>
<text x="298.75" y="283.60" font-size="4.7" text-anchor="middle" style="stroke-width:0.05px">*</text>
<text x="302.60" y="283.60" font-size="4.7" text-anchor="middle" style="stroke-width:0.05px">*</text>
<text x="306.45" y="283.60" font-size="4.7" text-anchor="middle" style="stroke-width:0.05px">*</text>
<text x="311.3" y="281.9" font-size="5.2" textLength="19.9" lengthAdjust="spacingAndGlyphs"><tspan font-style="italic">P</tspan> &lt; .005</text>
<rect x="346.54999999999995" y="260.95" width="3.7" height="3.7" fill="#111" stroke="#111" stroke-width="0.0"/>
<rect x="353.3" y="261.3" width="3.0" height="3.0" fill="#fff" stroke="#111" stroke-width="0.7"/>
<text x="360.5" y="263.9" font-size="5" text-anchor="start" font-weight="bold" textLength="60.3" lengthAdjust="spacingAndGlyphs" >Total CD8+ T cells / HIV-</text>
<circle cx="348.4" cy="270" r="1.9" fill="#111" stroke="#111" stroke-width="0.7"/>
<circle cx="354.8" cy="270" r="1.5" fill="#fff" stroke="#111" stroke-width="0.7"/>
<text x="360.5" y="272" font-size="5" text-anchor="start" font-weight="bold" textLength="61.8" lengthAdjust="spacingAndGlyphs" >Total CD8+ T cells / HIV+</text>
<polygon points="348.4,276.024 345.95279999999997,280.53200000000004 350.8472,280.53200000000004" fill="#111" stroke="#111" stroke-width="0.7" stroke-linejoin="miter"/>
<polygon points="354.8,276.5 352.805,280.175 356.795,280.175" fill="#fff" stroke="#111" stroke-width="0.7" stroke-linejoin="miter"/>
<text x="360.5" y="280.1" font-size="5" text-anchor="start" font-weight="bold" textLength="62.8" lengthAdjust="spacingAndGlyphs" >HIV-specific CD8+ T cells</text>
<polygon points="348.4,285.1 346.726,287.8 348.4,290.5 350.07399999999996,287.8" fill="#111" stroke="#111" stroke-width="0.7"/>
<polygon points="354.8,285.40000000000003 353.312,287.8 354.8,290.2 356.288,287.8" fill="#fff" stroke="#111" stroke-width="0.7"/>
<text x="360.5" y="289.5" font-size="5" text-anchor="start" font-weight="bold" textLength="66.1" lengthAdjust="spacingAndGlyphs" >CMV-specific CD8+ T cells</text>
</svg>
</body></html>
